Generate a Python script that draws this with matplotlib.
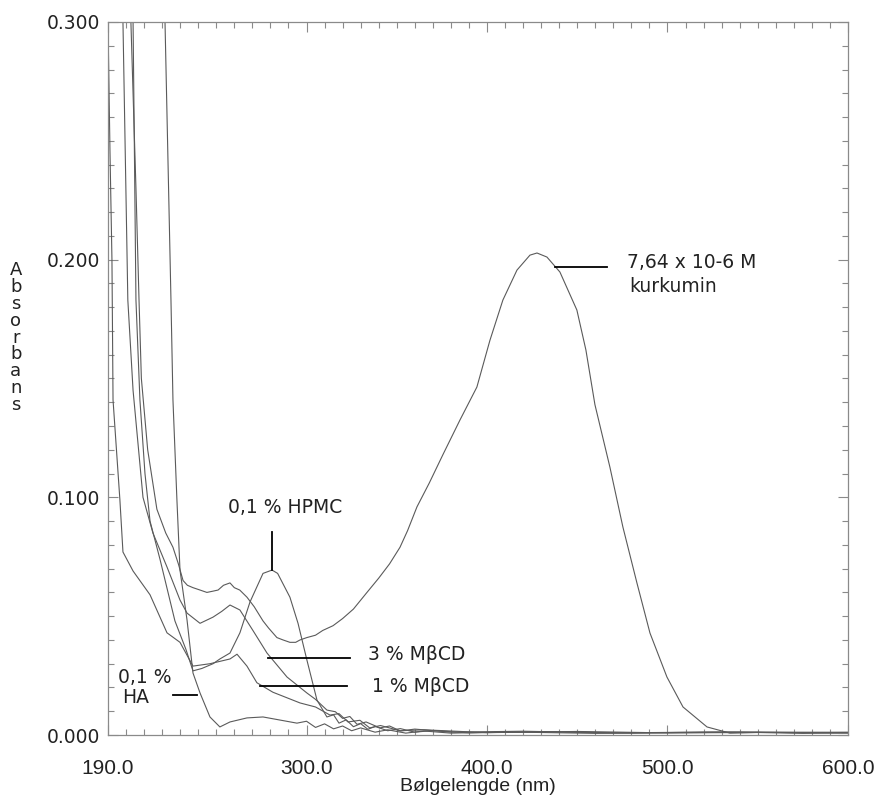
import matplotlib
matplotlib.use("Agg")
import matplotlib.pyplot as plt
from matplotlib.ticker import MultipleLocator, FixedLocator, FormatStrFormatter

# wavelength (nm) / absorbance
kurk_nm = [202.7, 205.5, 207.2, 208.5, 212, 217.1, 222, 226, 229, 231.6, 234, 237.1, 241,
           244.8, 248, 251, 254, 257.6, 260, 263, 267, 271, 275.9, 279, 283.6, 287, 290.8,
           294, 296.4, 300.2, 305, 309, 314.7, 320, 326, 333.5, 340, 346, 351.8, 356, 361.2,
           368, 375.6, 385, 394.4, 401.6, 408.8, 416.6, 423.8, 427.7, 433.2, 440.4, 449.8,
           454.8, 459.8, 468.1, 475.3, 483.1, 490.3, 499.7, 508.6, 521.9, 534.6, 550, 575, 600]
kurk_abs = [0.300, 0.230, 0.183, 0.150, 0.120, 0.095, 0.085, 0.079, 0.072, 0.065, 0.063,
            0.062, 0.061, 0.060, 0.0605, 0.061, 0.063, 0.064, 0.062, 0.061, 0.058, 0.054,
            0.048, 0.045, 0.041, 0.040, 0.039, 0.039, 0.040, 0.041, 0.042, 0.044, 0.046,
            0.049, 0.053, 0.060, 0.066, 0.072, 0.079, 0.086, 0.096, 0.106, 0.118, 0.1325,
            0.1464, 0.166, 0.183, 0.1956, 0.2019, 0.2028, 0.2011, 0.1948, 0.1788, 0.162,
            0.139, 0.1127, 0.0875, 0.0639, 0.0429, 0.0244, 0.0118, 0.0034, 0.0008, 0.0011,
            0.0007, 0.0010]

hpmc_nm = [203.9, 205.5, 207.7, 210.5, 213.3, 218.8, 227.1, 233.2, 237.1, 242, 248.2, 252,
           257.6, 263.1, 268.7, 275.9, 280.9, 284, 290.8, 295.3, 300.2, 305.8, 311.3, 315,
           318, 322, 326, 330, 334, 338, 345, 352, 360, 370, 390, 430, 480, 540, 600]
hpmc_abs = [0.300, 0.183, 0.141, 0.110, 0.090, 0.074, 0.048, 0.036, 0.027, 0.028, 0.030,
            0.032, 0.0345, 0.043, 0.056, 0.068, 0.0694, 0.068, 0.058, 0.047, 0.0316, 0.0147,
            0.0076, 0.0085, 0.0050, 0.0064, 0.0035, 0.0048, 0.0024, 0.0036, 0.0018, 0.0027,
            0.0012, 0.0019, 0.0009, 0.0014, 0.0008, 0.0012, 0.0009]

mbcd3_nm = [198.3, 201, 203.9, 209.4, 214.9, 222.7, 229.9, 233.8, 241, 248.2, 253, 257.6,
            263.1, 270.3, 278.1, 289.2, 300.2, 305, 311.3, 316, 320, 324, 328, 333, 340.7,
            346, 352, 360, 380, 420, 470, 530, 600]
mbcd3_abs = [0.300, 0.183, 0.145, 0.100, 0.085, 0.0707, 0.0568, 0.0513, 0.047, 0.0496,
             0.052, 0.0547, 0.0526, 0.044, 0.0345, 0.0244, 0.0177, 0.0150, 0.0105, 0.0098,
             0.0070, 0.0078, 0.0045, 0.0055, 0.0030, 0.0038, 0.0017, 0.0025, 0.0012, 0.0016,
             0.0009, 0.0013, 0.0010]

mbcd1_nm = [190, 191.1, 192.2, 192.8, 196.6, 198.3, 203.9, 213.3, 222.7, 229.9, 237.1,
            246.5, 257.6, 261.5, 267, 272.5, 281.4, 296.4, 305, 313, 318, 323, 329.6, 335,
            341, 351.8, 365, 400, 450, 500, 600]
mbcd1_abs = [0.300, 0.246, 0.200, 0.141, 0.099, 0.077, 0.069, 0.059, 0.043, 0.039, 0.029,
             0.030, 0.032, 0.034, 0.029, 0.022, 0.018, 0.0135, 0.0118, 0.0084, 0.0090,
             0.0055, 0.0062, 0.0030, 0.0040, 0.0018, 0.0022, 0.0010, 0.0015, 0.0009, 0.0012]

ha_nm = [221.6, 224.9, 226, 228.2, 229.9, 233.8, 237.1, 241, 246.5, 252, 257.6, 267,
         275.9, 285.3, 294.7, 300, 305, 310, 315, 320, 325, 330, 338, 345, 355, 365, 380,
         410, 460, 520, 600]
ha_abs = [0.300, 0.183, 0.141, 0.0989, 0.0694, 0.0484, 0.0261, 0.0177, 0.0076, 0.0034,
          0.0055, 0.0072, 0.0076, 0.0063, 0.0050, 0.0058, 0.0032, 0.0047, 0.0026, 0.0038,
          0.0018, 0.0030, 0.0012, 0.0022, 0.0008, 0.0017, 0.0008, 0.0013, 0.0007, 0.0012,
          0.0009]

x_major = [190, 300, 400, 500, 600]
y_major = [0.0, 0.1, 0.2, 0.3]

fig = plt.figure(figsize=(8.8, 7.96), dpi=100)
ax = fig.add_axes([0.1227, 0.0766, 0.8409, 0.8958])

line_col = '#5a5a5a'
for xs, ys in [(kurk_nm, kurk_abs), (hpmc_nm, hpmc_abs), (mbcd3_nm, mbcd3_abs),
               (mbcd1_nm, mbcd1_abs), (ha_nm, ha_abs)]:
    ax.plot(xs, ys, color=line_col, lw=0.8)

ax.set_xlim(190, 600)
ax.set_ylim(0, 0.3)

for s in ax.spines.values():
    s.set_color('#8a8a8a')
    s.set_linewidth(0.9)

ax.xaxis.set_major_locator(FixedLocator(x_major))
ax.xaxis.set_minor_locator(MultipleLocator(10))
ax.yaxis.set_major_locator(FixedLocator(y_major))
ax.yaxis.set_minor_locator(MultipleLocator(0.01))
ax.xaxis.set_major_formatter(FormatStrFormatter('%.1f'))
ax.yaxis.set_major_formatter(FormatStrFormatter('%.3f'))
ax.tick_params(which='both', direction='in', top=True, right=True, color='#8a8a8a',
               width=0.8, labelsize=13.5, labelcolor='#222222')
ax.tick_params(which='major', length=7, pad=6)
ax.tick_params(which='minor', length=4)
ax.tick_params(axis='x', which='major', pad=17)
for lbl in ax.get_xticklabels():
    lbl.set_family(['Liberation Sans', 'DejaVu Sans'])
    lbl.set_fontsize(15)

ax.set_xlabel('Bølgelengde (nm)', family=['Liberation Sans', 'DejaVu Sans'],
              fontsize=14, color='#222222', labelpad=0)
fig.text(0.018, 0.672, '\n'.join('Absorbans'), ha='center', va='top', fontsize=13,
         color='#222222', linespacing=0.92)

tc = '#222222'
fs = 13.5
ax.plot([437.6, 466.4], [0.1969, 0.1969], color='black', lw=1.3)
ax.text(477.5, 0.1986, '7,64 x 10-6 M', fontsize=fs, color=tc, va='center')
ax.text(479, 0.1885, 'kurkumin', fontsize=fs, color=tc, va='center')

ax.plot([280.9, 280.9], [0.0694, 0.0854], color='black', lw=1.3)
ax.text(288, 0.0959, '0,1 % HPMC', fontsize=fs, color=tc, ha='center', va='center')

ax.plot([278.6, 324], [0.0324, 0.0324], color='black', lw=1.3)
ax.text(334, 0.0337, '3 % MβCD', fontsize=fs, color=tc, va='center')
ax.plot([274.2, 322.4], [0.0206, 0.0206], color='black', lw=1.3)
ax.text(336.3, 0.0206, '1 % MβCD', fontsize=fs, color=tc, va='center')

ax.plot([226, 239.3], [0.0168, 0.0168], color='black', lw=1.3)
ax.text(195.5, 0.0244, '0,1 %', fontsize=fs, color=tc, va='center')
ax.text(197.8, 0.0156, 'HA', fontsize=fs, color=tc, va='center')

fig.savefig('out.png', dpi=100, facecolor='white')
